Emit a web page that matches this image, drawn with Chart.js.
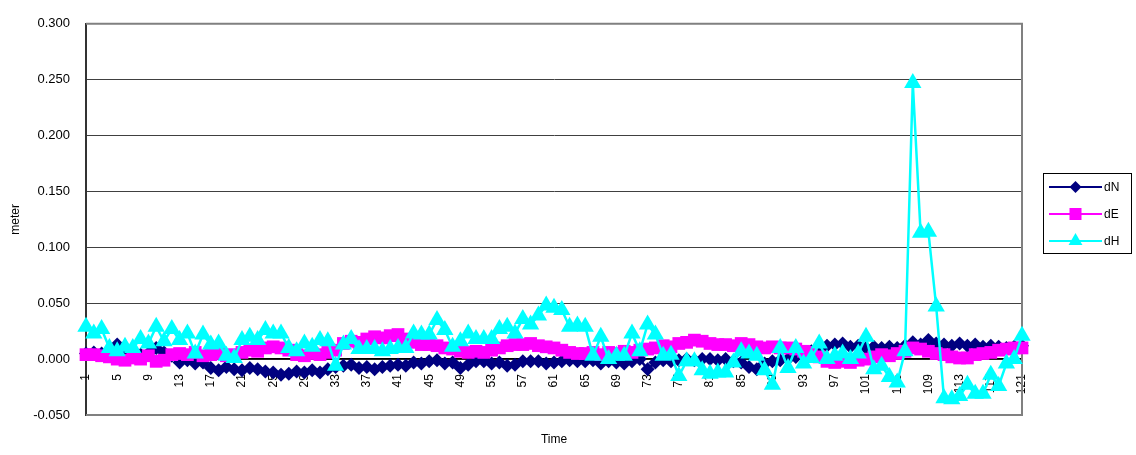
<!DOCTYPE html>
<html>
<head>
<meta charset="utf-8">
<script src="https://cdn.jsdelivr.net/npm/chart.js@4/dist/chart.umd.min.js"></script>
<style>
    body { margin: 0; background: #fff; }
    #wrap { width: 1136px; height: 455px; }
</style>
</head>
<body>
<div id="wrap"><canvas id="chart" width="1136" height="455"></canvas></div>
<script>
// categories 1..121
const labels = [];
for (let i = 1; i <= 121; i++) labels.push(String(i));

const yTicks = [-0.05, 0, 0.05, 0.1, 0.15, 0.2, 0.25, 0.3];

const dN = [
    0.005, 0.006, 0.005, 0.004, 0.013, 0.008, 0.006, 0.004,
    0.005, 0.010, 0.006, 0.003,
    -0.003, -0.001, -0.004, -0.003, -0.008, -0.010, -0.007, -0.009,
    -0.010, -0.008, -0.009, -0.011, -0.012, -0.014, -0.013, -0.011,
    -0.012, -0.010, -0.012, -0.009, -0.007,
    -0.006, -0.005, -0.008, -0.007, -0.009, -0.007, -0.006,
    -0.005, -0.006, -0.003, -0.004, -0.002, -0.001,
    -0.004, -0.003, -0.008, -0.005, -0.002, -0.002,
    -0.004, -0.003, -0.006, -0.005, -0.002, -0.002,
    -0.002, -0.004, -0.003, -0.002, -0.001, -0.002,
    -0.002, -0.001, -0.004, -0.002, -0.003, -0.004, -0.002, 0.000, -0.009, -0.003, -0.001, -0.002,
    -0.001, 0.000, -0.001, 0.000, 0.000, -0.001,
    0.000, -0.002, -0.003, -0.007, -0.009, -0.004, -0.002, -0.001,
    0.000, 0.002, 0.005, 0.007, 0.009,
    0.012, 0.013, 0.014, 0.011, 0.012, 0.010, 0.011,
    0.010, 0.011, 0.010, 0.012, 0.015, 0.013, 0.017, 0.014,
    0.013, 0.012, 0.014, 0.012, 0.013, 0.011,
    0.012, 0.011, 0.010, 0.011, 0.012
];

const dE = [
    0.004, 0.004, 0.003, 0.002,
    0.000, -0.001, 0.001, 0.000,
    0.003, -0.002, -0.001, 0.004,
    0.005, 0.004, 0.006, 0.003, 0.004, 0.005, 0.003, 0.004,
    0.006, 0.008, 0.007, 0.010, 0.011, 0.010, 0.008, 0.004,
    0.003, 0.005, 0.004, 0.006, 0.008,
    0.014, 0.016, 0.015, 0.018, 0.020, 0.019, 0.021,
    0.022, 0.018, 0.015, 0.013, 0.013, 0.012,
    0.010, 0.009, 0.007, 0.006, 0.007, 0.006,
    0.008, 0.010, 0.012, 0.013, 0.013, 0.014,
    0.012, 0.011, 0.010, 0.008, 0.006, 0.005,
    0.005, 0.006, 0.004, 0.006, 0.005, 0.007, 0.006, 0.008, 0.009, 0.010, 0.012, 0.011,
    0.014, 0.015, 0.017, 0.016, 0.014, 0.013,
    0.013, 0.012, 0.014, 0.013, 0.011, 0.010, 0.011, 0.010,
    0.010, 0.009, 0.007, 0.006, 0.002,
    -0.002, -0.003, -0.002, -0.003, -0.001, 0.000, 0.002,
    0.004, 0.003, 0.005, 0.007, 0.010, 0.009, 0.007, 0.005,
    0.004, 0.002, 0.001, 0.001, 0.004, 0.005,
    0.006, 0.008, 0.009, 0.010, 0.010
];

const dH = [
    0.029, 0.023, 0.027, 0.010, 0.007, 0.011, 0.010, 0.018,
    0.014, 0.029, 0.016, 0.027, 0.017, 0.023, 0.005, 0.022,
    0.013, 0.014, 0.003, 0.001,
    0.017, 0.020, 0.017, 0.026, 0.023, 0.023, 0.010, 0.007,
    0.014, 0.011, 0.017, 0.016, -0.006, 0.013, 0.018, 0.009,
    0.009, 0.009, 0.007, 0.009, 0.010,
    0.010, 0.023, 0.022, 0.022, 0.035, 0.026, 0.011, 0.016,
    0.023, 0.018, 0.018, 0.018, 0.027, 0.029, 0.023, 0.036,
    0.031, 0.039, 0.048, 0.046, 0.044,
    0.029, 0.030, 0.029, 0.003, 0.020, 0.000, 0.003, 0.003,
    0.023, 0.007, 0.031, 0.022, 0.003, 0.004, -0.015, -0.002,
    -0.002, -0.010, -0.013, -0.012,
    -0.012, -0.003, 0.007, 0.005, 0.003, -0.010, -0.023, 0.010,
    -0.008, 0.010, -0.004, 0.001, 0.014, 0.000, 0.003, 0.005,
    0.000, 0.005, 0.020, -0.009, -0.006, -0.016, -0.021, 0.007,
    0.247, 0.113, 0.114, 0.047,
    -0.035, -0.036, -0.033, -0.023, -0.031, -0.031, -0.014, -0.024,
    -0.004, 0.000, 0.021
];

const FONT = "'Liberation Sans', Arial, sans-serif";

const series = [
    { label: 'dN', data: dN, color: '#000080', point: 'rectRot', radius: 7 },
    { label: 'dE', data: dE, color: '#FF00FF', point: 'rect', radius: 9 },
    { label: 'dH', data: dH, color: '#00FFFF', point: 'triangle', radius: 10 }
];

// excel-like frame around the plot area
const frame = {
    id: 'frame',
    beforeDatasetsDraw(chart) {
        const a = chart.chartArea;
        const ctx = chart.ctx;
        ctx.save();
        ctx.strokeStyle = '#808080';
        ctx.lineWidth = 2;
        ctx.beginPath();
        ctx.moveTo(a.left, a.top);
        ctx.lineTo(a.right, a.top);
        ctx.lineTo(a.right, a.bottom);
        ctx.lineTo(a.left, a.bottom);
        ctx.stroke();
        ctx.restore();
    }
};

function marker(ctx, type, x, y, r) {
    ctx.beginPath();
    if (type === 'rectRot') {
        ctx.moveTo(x, y - r);
        ctx.lineTo(x + r, y);
        ctx.lineTo(x, y + r);
        ctx.lineTo(x - r, y);
    } else if (type === 'rect') {
        const s = r * Math.SQRT1_2;
        ctx.rect(x - s, y - s, 2 * s, 2 * s);
    } else {
        ctx.moveTo(x, y - r);
        ctx.lineTo(x + r * 0.866, y + r / 2);
        ctx.lineTo(x - r * 0.866, y + r / 2);
    }
    ctx.closePath();
    ctx.fill();
}

// legend box on the right
const legendBox = {
    id: 'legendBox',
    afterDraw(chart) {
        const ctx = chart.ctx;
        ctx.save();
        ctx.strokeStyle = '#000';
        ctx.lineWidth = 1;
        ctx.strokeRect(1043.5, 173.5, 88, 80);
        const ys = [187, 214, 241];
        series.forEach((s, i) => {
            const y = ys[i];
            ctx.strokeStyle = s.color;
            ctx.fillStyle = s.color;
            ctx.lineWidth = 2;
            ctx.beginPath();
            ctx.moveTo(1049, y);
            ctx.lineTo(1102, y);
            ctx.stroke();
            marker(ctx, s.point, 1075.5, y, s.point === 'rect' ? 8.5 : (s.point === 'triangle' ? 8 : 6));
            ctx.fillStyle = '#000';
            ctx.font = '12px ' + FONT;
            ctx.textBaseline = 'middle';
            ctx.fillText(s.label, 1104, y + 1);
        });
        ctx.restore();
    }
};

const data = {
    labels: labels,
    datasets: series.map((s, i) => ({
        label: s.label,
        data: s.data,
        borderColor: s.color,
        backgroundColor: s.color,
        borderWidth: 2.5,
        pointStyle: s.point,
        pointRadius: s.radius,
        pointBorderWidth: 0,
        pointBackgroundColor: s.color,
        tension: 0,
        clip: false,
        order: 3 - i
    }))
};

const config = {
    type: 'line',
    data: data,
    options: {
        responsive: false,
        animation: false,
        layout: {
            padding: { top: 13, right: 114, left: 0, bottom: 0 }
        },
        scales: {
            y: {
                min: -0.05,
                max: 0.3,
                afterBuildTicks: (scale) => {
                    scale.ticks = yTicks.map(v => ({ value: v }));
                },
                afterFit: (scale) => { scale.width = 86; },
                border: { display: true, color: '#333', width: 2 },
                grid: {
                    color: '#404040',
                    lineWidth: 1,
                    drawTicks: false
                },
                ticks: {
                    padding: 16,
                    color: '#000',
                    font: { family: FONT, size: 13 },
                    callback: (v) => v.toFixed(3)
                },
                title: {
                    display: true,
                    text: 'meter',
                    color: '#000',
                    font: { family: FONT, size: 12 },
                    padding: { top: 8, bottom: 0 }
                }
            },
            x: {
                position: { y: 0 },
                offset: false,
                border: { display: true, color: '#000', width: 1.5 },
                grid: { display: false },
                ticks: {
                    autoSkip: false,
                    maxRotation: 90,
                    minRotation: 90,
                    padding: 7,
                    color: '#000',
                    font: { family: FONT, size: 12 },
                    callback: (v, i) => (i % 4 === 0 ? labels[i] : '')
                }
            },
            x2: {
                type: 'category',
                position: 'bottom',
                afterFit: (scale) => { scale.height = 40; },
                border: { display: false },
                grid: { display: false },
                ticks: { display: false },
                title: {
                    display: true,
                    text: 'Time',
                    color: '#000',
                    font: { family: FONT, size: 12 },
                    padding: { top: 0, bottom: 8 }
                }
            }
        },
        plugins: {
            legend: { display: false },
            tooltip: { enabled: false }
        }
    },
    plugins: [frame, legendBox]
};

const chart = new Chart(document.getElementById('chart'), config);
</script>
</body>
</html>
